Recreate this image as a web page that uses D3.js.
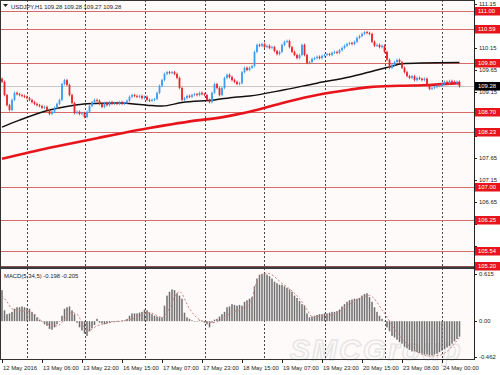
<!DOCTYPE html>
<html>
<head>
<meta charset="utf-8">
<script src="https://cdn.jsdelivr.net/npm/d3@7"></script>
<style>
  body { margin: 0; background: #fff; }
  svg { display: block; font-family: "Liberation Sans", Arial, sans-serif; }
</style>
</head>
<body>
<div id="chart"></div>
<script>
// USDJPY H1 closes, one per bar, left to right
const closes = [
  109.38, 109.08, 108.85, 108.74, 108.97, 109.13, 109.10, 109.08, 109.06, 109.04,
  109.01, 108.97, 108.92, 108.88, 108.85, 108.83, 108.79, 108.81, 108.74, 108.65,
  108.70, 108.79, 108.88, 108.97, 109.33, 109.42, 109.31, 109.08, 108.90, 108.67,
  108.70, 108.65, 108.67, 108.58, 108.70, 108.83, 108.92, 108.97, 108.95, 108.88,
  108.81, 108.90, 108.85, 108.92, 108.88, 108.90, 108.88, 108.92, 108.88, 108.90,
  108.95, 109.04, 109.08, 109.06, 109.04, 109.06, 109.01, 109.04, 108.97, 108.95,
  108.97, 108.99, 109.13, 109.29, 109.42, 109.56, 109.60, 109.58, 109.60, 109.56,
  109.47, 109.24, 108.97, 109.01, 109.06, 109.04, 109.08, 109.10, 109.08, 109.13,
  109.10, 109.08, 108.97, 108.92, 109.13, 109.33, 109.24, 109.08, 109.24, 109.47,
  109.54, 109.49, 109.42, 109.38, 109.33, 109.35, 109.60, 109.70, 109.65, 109.70,
  109.74, 110.06, 110.22, 110.20, 110.24, 110.17, 110.20, 110.15, 110.17, 110.08,
  110.01, 110.06, 110.22, 110.29, 110.31, 110.17, 110.06, 109.99, 109.92, 109.99,
  110.22, 109.99, 109.81, 109.83, 109.90, 109.92, 109.95, 109.92, 109.97, 109.99,
  110.01, 109.99, 110.04, 110.06, 110.04, 110.10, 110.15, 110.20, 110.24, 110.26,
  110.24, 110.29, 110.38, 110.42, 110.47, 110.51, 110.49, 110.47, 110.29, 110.20,
  110.22, 110.17, 110.20, 110.06, 109.88, 109.70, 109.77, 109.83, 109.88, 109.83,
  109.70, 109.60, 109.51, 109.47, 109.51, 109.42, 109.47, 109.45, 109.42, 109.45,
  109.29, 109.22, 109.24, 109.26, 109.29, 109.29, 109.33, 109.38, 109.35, 109.40,
  109.38, 109.35, 109.38, 109.28
];
const firstOpen = 109.45;

// moving averages, read at a few bars
const maBlackBars = [0, 7, 19, 27, 34, 47, 58, 64, 72, 85, 93, 99, 113, 126, 139, 150, 155, 160, 168, 183];
const maBlackVals = [108.35, 108.51, 108.74, 108.83, 108.88, 108.90, 108.85, 108.83, 108.91, 108.97,
                     109.03, 109.06, 109.20, 109.35, 109.49, 109.65, 109.72, 109.79, 109.81, 109.82];
const maRedBars = [0, 19, 38, 59, 79, 85, 93, 99, 113, 126, 139, 147, 159, 171, 183];
const maRedVals = [107.63, 107.88, 108.10, 108.33, 108.51, 108.55, 108.63, 108.70, 108.91, 109.08,
                   109.20, 109.26, 109.29, 109.31, 109.35];

// support / resistance levels
const levels = [111.00, 110.59, 109.80, 108.70, 108.23, 107.00, 106.25, 105.54, 105.20];
const lastPrice = 109.28;
const priceTicks = [111.15, 110.65, 110.15, 109.65, 109.15, 108.65, 108.15, 107.65, 107.15, 106.65, 106.15, 105.65];

// MACD(5,34,5) main, one per bar
const macd = [
  0.40, 0.14, 0.09, 0.10, 0.12, 0.16, 0.18, 0.18, 0.19, 0.18,
  0.17, 0.16, 0.12, 0.09, 0.05, 0.02, 0.00, -0.04, -0.06, -0.10,
  -0.11, -0.08, -0.04, 0.00, 0.07, 0.16, 0.18, 0.19, 0.14, 0.09,
  -0.02, -0.08, -0.12, -0.16, -0.19, -0.13, -0.09, -0.05, 0.03, -0.02,
  -0.03, -0.04, -0.03, -0.02, -0.01, -0.01, -0.01, 0.00, 0.00, 0.01,
  0.03, 0.07, 0.10, 0.10, 0.10, 0.11, 0.12, 0.15, 0.14, 0.11,
  0.09, 0.07, 0.06, 0.05, 0.05, 0.20, 0.33, 0.38, 0.41, 0.40,
  0.36, 0.33, 0.29, 0.11, 0.05, 0.03, 0.01, 0.00, 0.00, 0.01,
  0.00, -0.02, -0.04, -0.08, -0.02, 0.02, 0.03, 0.06, 0.09, 0.12,
  0.18, 0.19, 0.22, 0.21, 0.20, 0.21, 0.20, 0.25, 0.27, 0.29,
  0.31, 0.45, 0.55, 0.60, 0.61, 0.62, 0.60, 0.58, 0.55, 0.51,
  0.49, 0.47, 0.47, 0.45, 0.43, 0.41, 0.38, 0.33, 0.30, 0.26,
  0.22, 0.20, 0.10, 0.05, 0.06, 0.07, 0.08, 0.09, 0.09, 0.10,
  0.10, 0.11, 0.12, 0.12, 0.13, 0.15, 0.19, 0.22, 0.25, 0.27,
  0.28, 0.29, 0.29, 0.30, 0.33, 0.35, 0.36, 0.31, 0.25, 0.18,
  0.12, 0.07, 0.03, 0.00, -0.08, -0.13, -0.19, -0.21, -0.24, -0.27,
  -0.29, -0.33, -0.35, -0.37, -0.39, -0.39, -0.40, -0.41, -0.42, -0.43,
  -0.43, -0.44, -0.44, -0.43, -0.42, -0.40, -0.38, -0.36, -0.34, -0.32,
  -0.29, -0.26, -0.23, -0.20
];
// signal line, read at a few bars
const sigBars = [0, 2, 4, 12, 16, 22, 28, 30, 34, 38, 43, 52, 59, 64, 71, 75, 79, 84, 92, 99,
                 102, 106, 112, 119, 122, 124, 132, 139, 147, 152, 158, 164, 171, 175, 183];
const sigVals = [0.33, 0.25, 0.16, 0.11, 0.00, -0.06, 0.11, 0.09, -0.13, -0.06, -0.02, 0.03, 0.11, 0.05, 0.38, 0.16, 0.02, -0.02, 0.11, 0.22,
                 0.51, 0.62, 0.49, 0.29, 0.15, 0.06, 0.08, 0.22, 0.33, 0.15, -0.15, -0.35, -0.45, -0.44, -0.21];

// time axis
const timeBars = [0, 16, 32, 48, 64, 80, 96, 112, 128, 144, 160, 176];
const timeLabels = ["12 May 2016", "13 May 06:00", "13 May 22:00", "16 May 15:00", "17 May 07:00", "17 May 23:00",
                    "18 May 15:00", "19 May 07:00", "19 May 23:00", "20 May 15:00", "23 May 08:00", "24 May 00:00"];
const gridBars = [10, 33, 57, 81, 105, 129, 153, 176];

const W = 500, H = 375;
const plotR = 474;
const mainTop = 0, mainBot = 266;
const macdTop = 269, macdBot = 359;
const fs = 5.9;

const svg = d3.select("#chart").append("svg").attr("width", W).attr("height", H);
svg.append("rect").attr("width", W).attr("height", H).attr("fill", "#fff");
svg.append("rect").attr("x", 0).attr("y", 0).attr("width", plotR).attr("height", macdBot).attr("fill", "#fffafa");

const x = d3.scaleLinear().domain([0, closes.length - 1]).range([2, 459.5]);
const y = d3.scaleLinear().domain([105.195, 111.24]).range([mainBot, mainTop]);
const ym = d3.scaleLinear().domain([-0.462, 0.615]).range([357, 273.5]);

// watermark
svg.append("text").attr("x", 290).attr("y", 360).attr("font-size", 30).attr("font-style", "italic")
  .attr("font-weight", "bold").attr("fill", "none").attr("stroke", "#e6e6e6").attr("stroke-width", 1.5)
  .attr("letter-spacing", 2).text("SMCGroup");

// vertical dashed grid
svg.append("g").selectAll("line").data(gridBars).join("line")
  .attr("x1", d => Math.round(x(d)) + 0.5).attr("x2", d => Math.round(x(d)) + 0.5)
  .attr("y1", mainTop).attr("y2", macdBot)
  .attr("stroke", "#444").attr("stroke-width", 1).attr("stroke-dasharray", "2,2");

// levels
svg.append("g").selectAll("line").data(levels).join("line")
  .attr("x1", 0).attr("x2", plotR)
  .attr("y1", d => Math.round(y(d)) + 0.5).attr("y2", d => Math.round(y(d)) + 0.5)
  .attr("stroke", "#d46a6a").attr("stroke-width", 1);
svg.append("line").attr("x1", 0).attr("x2", plotR)
  .attr("y1", Math.round(y(lastPrice)) + 0.5).attr("y2", Math.round(y(lastPrice)) + 0.5)
  .attr("stroke", "#c8c8c8");

// moving averages
const line = d3.line().x(d => x(d[0])).y(d => y(d[1])).curve(d3.curveMonotoneX);
svg.append("path").datum(maRedBars.map((b, i) => [b, maRedVals[i]]))
  .attr("d", line).attr("fill", "none").attr("stroke", "#e8141c").attr("stroke-width", 2.6);
svg.append("path").datum(maBlackBars.map((b, i) => [b, maBlackVals[i]]))
  .attr("d", line).attr("fill", "none").attr("stroke", "#111").attr("stroke-width", 1.5);

// candles
const bars = closes.map((c, i) => {
  const o = i === 0 ? firstOpen : closes[i - 1];
  return { i, o, c, up: c >= o };
});
const wick = 0.03;
const cg = svg.append("g");
cg.selectAll("line").data(bars).join("line")
  .attr("x1", d => x(d.i)).attr("x2", d => x(d.i))
  .attr("y1", d => y(Math.max(d.o, d.c) + wick)).attr("y2", d => y(Math.min(d.o, d.c) - wick))
  .attr("stroke", d => d.up ? "#3d9df0" : "#e8262a").attr("stroke-width", 0.8);
cg.selectAll("rect").data(bars).join("rect")
  .attr("x", d => x(d.i) - 0.9).attr("width", 1.8)
  .attr("y", d => y(Math.max(d.o, d.c)))
  .attr("height", d => Math.max(0.8, Math.abs(y(d.o) - y(d.c))))
  .attr("fill", d => d.up ? "#3d9df0" : "#e8262a");

// MACD histogram and signal
svg.append("g").selectAll("rect").data(macd).join("rect")
  .attr("x", (d, i) => x(i) - 0.75).attr("width", 1.5)
  .attr("y", d => Math.min(ym(d), ym(0)))
  .attr("height", d => Math.max(0.5, Math.abs(ym(d) - ym(0))))
  .attr("fill", "#6e6e6e");
const sline = d3.line().x(d => x(d[0])).y(d => ym(d[1])).curve(d3.curveMonotoneX);
svg.append("path").datum(sigBars.map((b, i) => [b, sigVals[i]]))
  .attr("d", sline).attr("fill", "none").attr("stroke", "#c98080").attr("stroke-width", 1)
  .attr("stroke-dasharray", "2,2");

// frames
svg.append("rect").attr("x", 0.5).attr("y", 0.5).attr("width", plotR).attr("height", macdBot)
  .attr("fill", "none").attr("stroke", "#333");
svg.append("rect").attr("x", 0).attr("y", mainBot + 0.5).attr("width", plotR).attr("height", 2.5).attr("fill", "#3a3a3a");
svg.append("line").attr("x1", plotR + 0.5).attr("x2", plotR + 0.5).attr("y1", 0).attr("y2", macdBot + 1)
  .attr("stroke", "#222");

// price axis (labels hidden under a level box are left out)
const boxed = levels.concat([lastPrice]);
const freeTicks = priceTicks.filter(t => boxed.every(v => Math.abs(y(v) - y(t)) > 5.5));
const pa = svg.append("g").attr("font-size", fs).attr("fill", "#222");
pa.selectAll("line").data(priceTicks).join("line")
  .attr("x1", plotR).attr("x2", plotR + 3)
  .attr("y1", d => Math.round(y(d)) + 0.5).attr("y2", d => Math.round(y(d)) + 0.5).attr("stroke", "#222");
pa.selectAll("text").data(freeTicks).join("text")
  .attr("x", plotR + 5).attr("y", d => y(d) + 2.2).text(d => d.toFixed(2));

const lg = svg.append("g").attr("font-size", fs);
levels.forEach(v => {
  const yy = Math.round(y(v));
  lg.append("rect").attr("x", plotR + 1).attr("y", yy - 4).attr("width", W - plotR - 1).attr("height", 8.5).attr("fill", "#e8141c");
  lg.append("text").attr("x", plotR + 4).attr("y", yy + 2.4).attr("fill", "#fff").text(v.toFixed(2));
});
{
  const yy = Math.round(y(lastPrice));
  lg.append("rect").attr("x", plotR + 1).attr("y", yy - 4).attr("width", W - plotR - 1).attr("height", 8.5).attr("fill", "#000");
  lg.append("text").attr("x", plotR + 4).attr("y", yy + 2.4).attr("fill", "#fff").text(lastPrice.toFixed(2));
}

// MACD axis
const macdTicks = [0.615, 0, -0.462];
const ma = svg.append("g").attr("font-size", fs).attr("fill", "#222");
ma.selectAll("line").data(macdTicks).join("line")
  .attr("x1", plotR).attr("x2", plotR + 3)
  .attr("y1", d => Math.round(ym(d)) + 0.5).attr("y2", d => Math.round(ym(d)) + 0.5).attr("stroke", "#222");
ma.selectAll("text").data(macdTicks).join("text")
  .attr("x", plotR + 5).attr("y", d => ym(d) + 2.2)
  .text(d => d === 0 ? "0.00" : d3.format(".3f")(d).replace("−", "-"));

// time axis
const ta = svg.append("g").attr("font-size", fs).attr("fill", "#222");
ta.selectAll("line").data(timeBars).join("line")
  .attr("x1", d => Math.round(x(d)) + 0.5).attr("x2", d => Math.round(x(d)) + 0.5)
  .attr("y1", macdBot).attr("y2", macdBot + 4).attr("stroke", "#222");
ta.selectAll("text").data(timeBars).join("text")
  .attr("x", d => x(d) + 1).attr("y", 370).text((d, i) => timeLabels[i]);

// titles
svg.append("path").attr("d", "M3,4 L8,4 L5.5,7 Z").attr("fill", "#222");
svg.append("text").attr("x", 11).attr("y", 8.5).attr("font-size", fs).attr("fill", "#222")
  .text("USDJPY,H1  109.28 109.28 109.27 109.28");
svg.append("text").attr("x", 4).attr("y", 278).attr("font-size", fs).attr("fill", "#222")
  .text("MACD(5,34,5) -0.198 -0.205");
</script>
</body>
</html>
